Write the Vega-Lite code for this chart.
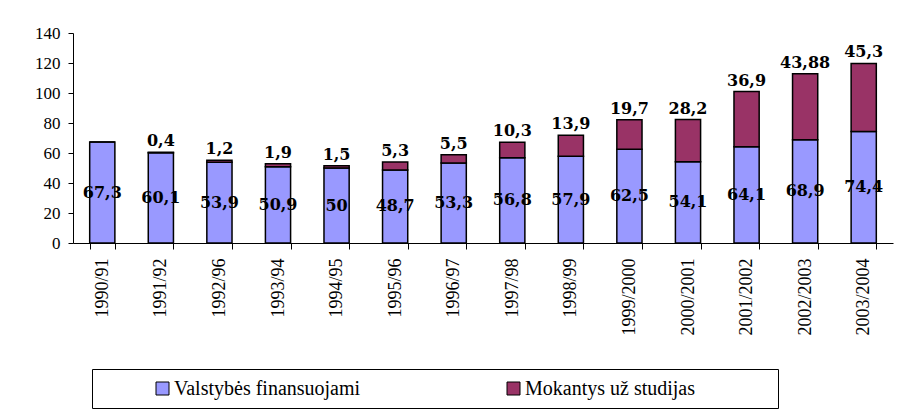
{
  "$schema": "https://vega.github.io/schema/vega-lite/v6.json",
  "width": 820,
  "height": 210,
  "autosize": {"type": "none"},
  "padding": {"left": 73, "top": 33, "right": 13, "bottom": 167},
  "background": "white",
  "config": {
    "view": {"stroke": null},
    "locale": {"number": {"decimal": ",", "thousands": ".", "grouping": [3], "currency": ["", " €"]}}
  },
  "data": {
    "values": [
      {"year": "1990/91", "type": "Valstybės finansuojami", "value": 67.3},
      {"year": "1990/91", "type": "Mokantys už studijas", "value": 0},
      {"year": "1991/92", "type": "Valstybės finansuojami", "value": 60.1},
      {"year": "1991/92", "type": "Mokantys už studijas", "value": 0.4},
      {"year": "1992/96", "type": "Valstybės finansuojami", "value": 53.9},
      {"year": "1992/96", "type": "Mokantys už studijas", "value": 1.2},
      {"year": "1993/94", "type": "Valstybės finansuojami", "value": 50.9},
      {"year": "1993/94", "type": "Mokantys už studijas", "value": 1.9},
      {"year": "1994/95", "type": "Valstybės finansuojami", "value": 50},
      {"year": "1994/95", "type": "Mokantys už studijas", "value": 1.5},
      {"year": "1995/96", "type": "Valstybės finansuojami", "value": 48.7},
      {"year": "1995/96", "type": "Mokantys už studijas", "value": 5.3},
      {"year": "1996/97", "type": "Valstybės finansuojami", "value": 53.3},
      {"year": "1996/97", "type": "Mokantys už studijas", "value": 5.5},
      {"year": "1997/98", "type": "Valstybės finansuojami", "value": 56.8},
      {"year": "1997/98", "type": "Mokantys už studijas", "value": 10.3},
      {"year": "1998/99", "type": "Valstybės finansuojami", "value": 57.9},
      {"year": "1998/99", "type": "Mokantys už studijas", "value": 13.9},
      {"year": "1999/2000", "type": "Valstybės finansuojami", "value": 62.5},
      {"year": "1999/2000", "type": "Mokantys už studijas", "value": 19.7},
      {"year": "2000/2001", "type": "Valstybės finansuojami", "value": 54.1},
      {"year": "2000/2001", "type": "Mokantys už studijas", "value": 28.2},
      {"year": "2001/2002", "type": "Valstybės finansuojami", "value": 64.1},
      {"year": "2001/2002", "type": "Mokantys už studijas", "value": 36.9},
      {"year": "2002/2003", "type": "Valstybės finansuojami", "value": 68.9},
      {"year": "2002/2003", "type": "Mokantys už studijas", "value": 43.88},
      {"year": "2003/2004", "type": "Valstybės finansuojami", "value": 74.4},
      {"year": "2003/2004", "type": "Mokantys už studijas", "value": 45.3}
    ]
  },
  "encoding": {
    "x": {
      "field": "year",
      "type": "nominal",
      "sort": null,
      "scale": {"paddingInner": 0.57, "paddingOuter": 0.285},
      "axis": {
        "title": null,
        "labelAngle": -90,
        "labelAlign": "right",
        "labelBaseline": "middle",
        "labelFont": "Liberation Serif",
        "labelFontSize": 18,
        "labelColor": "black",
        "tickBand": "extent",
        "tickSize": 6,
        "tickColor": "black",
        "domainColor": "black",
        "labelPadding": 9
      }
    }
  },
  "layer": [
    {
      "mark": {"type": "bar", "stroke": "black", "strokeWidth": 1.5},
      "encoding": {
        "y": {
          "field": "value",
          "type": "quantitative",
          "stack": "zero",
          "scale": {"domain": [0, 140]},
          "axis": {
            "title": null,
            "values": [0, 20, 40, 60, 80, 100, 120, 140],
            "grid": false,
            "labelFont": "Liberation Serif",
            "labelFontSize": 17,
            "labelColor": "black",
            "tickColor": "black",
            "domainColor": "black",
            "tickSize": 5,
            "labelPadding": 8
          }
        },
        "color": {
          "field": "type",
          "type": "nominal",
          "scale": {
            "domain": ["Valstybės finansuojami", "Mokantys už studijas"],
            "range": ["#9999FF", "#993366"]
          },
          "legend": {
            "title": "\u00a0",
            "titleOrient": "right",
            "titlePadding": 74,
            "titleFontSize": 11,
            "orient": "none",
            "legendX": 19,
            "legendY": 336,
            "direction": "horizontal",
            "strokeColor": "black",
            "fillColor": "white",
            "padding": 9.5,
            "symbolType": "square",
            "symbolSize": 169,
            "symbolStrokeColor": "black",
            "symbolStrokeWidth": 1,
            "symbolOffset": 51,
            "labelOffset": 1.5,
            "columnPadding": 92,
            "labelFont": "Liberation Serif",
            "labelFontSize": 20,
            "labelColor": "black",
            "labelLimit": 400
          }
        },
        "order": {"field": "type", "sort": "descending"}
      }
    },
    {
      "mark": {"type": "text", "font": "DejaVu Serif", "fontWeight": "bold", "fontSize": 16, "baseline": "alphabetic", "dy": -6, "color": "black"},
      "encoding": {
        "y": {"field": "value", "type": "quantitative", "stack": "zero", "scale": {"domain": [0, 140]}, "axis": null},
        "detail": {"field": "type"},
        "order": {"field": "type", "sort": "descending"},
        "text": {
          "condition": {"test": "datum.type === 'Mokantys už studijas' && datum.value > 0", "field": "value", "type": "quantitative", "format": "~g"},
          "value": ""
        }
      }
    },
    {
      "transform": [{"filter": "datum.type === 'Valstybės finansuojami'"}],
      "mark": {"type": "text", "font": "DejaVu Serif", "fontWeight": "bold", "fontSize": 16, "baseline": "middle", "color": "black"},
      "encoding": {
        "y": {"field": "value", "type": "quantitative", "scale": {"domain": [0, 280]}, "axis": null},
        "text": {"field": "value", "type": "quantitative", "format": "~g"}
      }
    }
  ],
  "resolve": {"scale": {"y": "independent"}}
}
